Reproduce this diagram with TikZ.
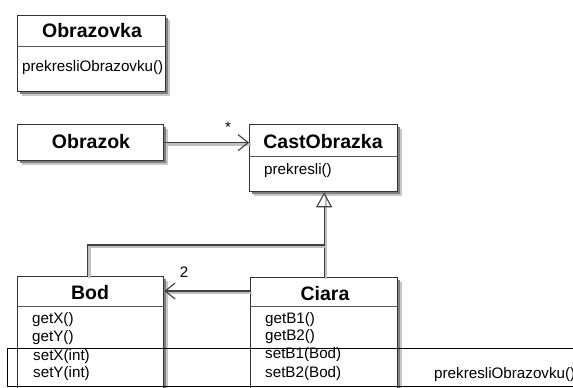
\documentclass[tikz,border=0pt]{standalone}
\usepackage{fontspec}
\setmainfont{Liberation Sans}
\usetikzlibrary{arrows.meta}
\begin{document}
\begin{tikzpicture}[x=1pt,y=-1pt,
 umlbox/.style={draw=black!80, line width=1.3pt, fill=white, inner sep=0, anchor=north west},
 shadowfar/.style={fill=black!22},
 shadownear/.style={fill=black!50},
 title/.style={font=\bfseries\fontsize{19.5}{21}\selectfont, inner sep=0},
 meth/.style={font=\fontsize{15.2}{18}\selectfont, inner sep=0, anchor=west},
 divider/.style={draw=black!65, line width=0.8pt},
 conn/.style={draw=black!75, line width=1.1pt,
   preaction={draw=black!25, line width=2.5pt, arrows=-, transform canvas={shift={(2pt,-2pt)}}}},
 openarrow/.style={-{Straight Barb[length=10pt,width=16pt,line width=1.1pt]}},
 gen/.style={-{Triangle[open,length=15pt,width=16pt,line width=1.1pt]}},
 tbl/.style={draw=black, line width=0.9pt}]
\useasboundingbox (0,0) rectangle (573,388);

% box shadows (drawn first, under the boxes)
\foreach \x/\y/\w/\h in {17/15/148/76, 17/124/146/36, 249/124/148/67, 17/276/146/130, 250/277/147/130}{
  \fill[shadowfar] (\x+5,\y+5) rectangle (\x+\w+5,\y+\h+5);
  \fill[shadownear] (\x+3,\y+3) rectangle (\x+\w+3,\y+\h+3);
}

% boxes
\node[umlbox, minimum width=148pt, minimum height=76pt] (obrazovka) at (17,15) {};
\node[umlbox, minimum width=146pt, minimum height=36pt] (obrazok) at (17,124) {};
\node[umlbox, minimum width=148pt, minimum height=67pt] (cast) at (249,124) {};
\node[umlbox, minimum width=146pt, minimum height=130pt] (bod) at (17,276) {};
\node[umlbox, minimum width=147pt, minimum height=130pt] (ciara) at (250,277) {};

% dividers
\draw[divider] (obrazovka.west |- 0,46) -- (obrazovka.east |- 0,46);
\draw[divider] (cast.west |- 0,156) -- (cast.east |- 0,156);
\draw[divider] (bod.west |- 0,306) -- (bod.east |- 0,306);
\draw[divider] (ciara.west |- 0,306) -- (ciara.east |- 0,306);

% titles
\node[title] (tobrazovka) at (92,31) {Obrazovka};
\node[title] (tobrazok) at (91,142) {Obrazok};
\node[title] (tcast) at (323,142) {CastObrazka};
\node[title] (tbod) at (90,293) {Bod};
\node[title] (tciara) at (325,294) {Ciara};

% methods
\node[meth] (m1) at (22,68) {prekresliObrazovku()};
\node[meth] (m2) at (264,171) {prekresli()};
\node[meth] (b1) at (32,320) {getX()};
\node[meth] (b2) at (32,338) {getY()};
\node[meth] (b3) at (33,357) {setX(int)};
\node[meth] (b4) at (33,374) {setY(int)};
\node[meth] (c1) at (265,320) {getB1()};
\node[meth] (c2) at (265,337) {getB2()};
\node[meth] (c3) at (265,355) {setB1(Bod)};
\node[meth] (c4) at (265,374) {setB2(Bod)};

% connectors
\draw[conn, openarrow] (obrazok.east) -- (cast.west |- obrazok.east);
\node[meth, anchor=center] (star) at (228,127) {*};
\coordinate (j) at (ciara.north |- 0,245);
\draw[conn, gen] (ciara.north) -- (ciara.north |- cast.south);
\draw[conn] ([xshift=-3pt]bod.north) |- (j);
\draw[conn, openarrow] (ciara.west |- 0,291) -- (bod.east |- 0,291);
\node[meth, anchor=center] (two) at (184,272) {2};

% table fragment
\draw[tbl] (7,348) -- (580,348);
\draw[tbl] (7,386) -- (580,386);
\draw[tbl] (7,348) -- (7,386);
\node[meth] (tcell) at (434,375) {prekresliObrazovku()};
\end{tikzpicture}
\end{document}
